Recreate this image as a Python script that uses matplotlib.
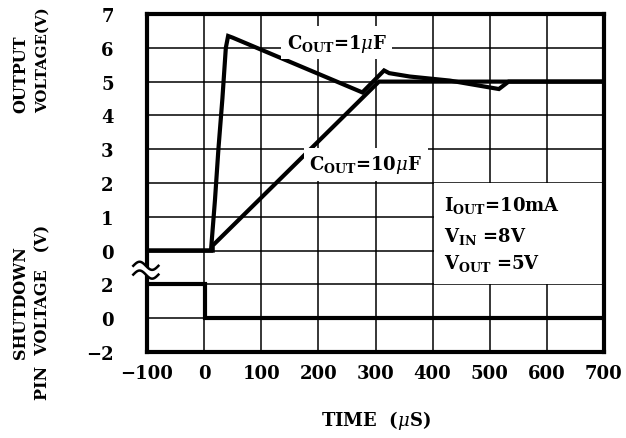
import numpy as np
import matplotlib
matplotlib.use('Agg')
import matplotlib.pyplot as plt
from matplotlib.patches import Rectangle

# Datos (tiempo en us, tension en V)
t_1uF = [-100, 12, 19, 25, 32, 38, 42, 50, 277, 315, 324, 360, 430, 516, 533, 700]
v_1uF = [0, 0, 1.5, 3.0, 4.5, 6.0, 6.35, 6.3, 4.68, 5.33, 5.25, 5.15, 5.03, 4.78, 5.0, 5.0]

t_10uF = [-100, 15, 15, 306, 700]
v_10uF = [0, 0, 0.15, 5.0, 5.0]

t_shdn = [-100, 1, 1, 700]
v_shdn = [2, 2, 0, 0]

# etiquetas del eje y (parte superior: salida, parte inferior: shutdown)
ytick_pos = [-3, -2, -1, 0, 1, 2, 3, 4, 5, 6, 7]
ytick_lab = ['\u22122', '0', '2', '0', '1', '2', '3', '4', '5', '6', '7']
xticks = [-100, 0, 100, 200, 300, 400, 500, 600, 700]
xtick_lab = ['\u2212100', '0', '100', '200', '300', '400', '500', '600', '700']

plt.rcParams['font.family'] = 'DejaVu Serif'
plt.rcParams['mathtext.fontset'] = 'dejavuserif'

W, H = 626, 439
fig = plt.figure(figsize=(W / 100, H / 100), dpi=100)
ax = fig.add_axes([147 / W, 1 - 353 / H, 457 / W, 338 / H])

# la tension de shutdown se dibuja en la escala de abajo: 2V -> -1, 0V -> -2
pos_shdn = [v / 2 - 2 for v in v_shdn]

lw = 3
ax.plot(t_1uF, v_1uF, color='black', lw=lw, zorder=3, solid_joinstyle='miter')
ax.plot(t_10uF, v_10uF, color='black', lw=lw, zorder=3, solid_joinstyle='miter')
ax.plot(t_shdn, pos_shdn, color='black', lw=lw, zorder=3, solid_joinstyle='miter')

ax.set_xlim(-100, 700)
ax.set_ylim(-3, 7)
ax.set_xticks(xticks)
ax.set_xticklabels(xtick_lab)
ax.set_yticks(ytick_pos)
ax.set_yticklabels(ytick_lab)
ax.tick_params(length=0, labelsize=13)
ax.tick_params(axis='y', pad=24)
ax.tick_params(axis='x', pad=9)
for lab in ax.get_xticklabels() + ax.get_yticklabels():
    lab.set_fontweight('bold')

ax.set_axisbelow(True)
ax.grid(True, color='black', lw=1.1)
for sp in ax.spines.values():
    sp.set_linewidth(3)

# caja blanca de las condiciones
ax.add_patch(Rectangle((403, -1), 300, 3, facecolor='white', edgecolor='none', zorder=1))
ax.text(420, 1.35, r'I$_\mathbf{OUT}$=10mA', fontsize=13, fontweight='bold', va='center', zorder=4)
ax.text(420, 0.45, r'V$_\mathbf{IN}$ =8V', fontsize=13, fontweight='bold', va='center', zorder=4)
ax.text(420, -0.35, r'V$_\mathbf{OUT}$ =5V', fontsize=13, fontweight='bold', va='center', zorder=4)

box = dict(facecolor='white', edgecolor='none', pad=4)
ax.text(232, 6.15, r'C$_\mathbf{OUT}$=1$\mu$F', fontsize=13, fontweight='bold',
        ha='center', va='center', bbox=box, zorder=4)
ax.text(283, 2.55, r'C$_\mathbf{OUT}$=10$\mu$F', fontsize=13, fontweight='bold',
        ha='center', va='center', bbox=box, zorder=4)

# marca de corte del eje
xs = np.linspace(-124, -80, 60)
wave = 0.12 * np.sin(2 * np.pi * (xs + 124) / 44)
ax.fill_between(xs, -0.47 + wave, -0.69 + wave, color='white', zorder=5, clip_on=False)
ax.plot(xs, -0.45 + wave, color='black', lw=1.8, zorder=6, clip_on=False)
ax.plot(xs, -0.71 + wave, color='black', lw=1.8, zorder=6, clip_on=False)

# titulos de ejes
lab = dict(fontsize=11.5, fontweight='bold', rotation=90)
fig.text(21 / W, 1 - 113 / H, 'OUTPUT', va='bottom', ha='center', **lab)
fig.text(43 / W, 1 - 113 / H, 'VOLTAGE(V)', va='bottom', ha='center',
         fontsize=10.8, fontweight='bold', rotation=90)
fig.text(21 / W, 1 - 303 / H, 'SHUTDOWN', va='center', ha='center', **lab)
fig.text(43 / W, 1 - 312 / H, 'PIN  VOLTAGE   (V)', va='center', ha='center', **lab)
fig.text(376 / W, 1 - 421 / H, r'TIME  ($\mu$S)', fontsize=13, fontweight='bold',
         ha='center', va='center')

fig.savefig('out.png', dpi=100)
